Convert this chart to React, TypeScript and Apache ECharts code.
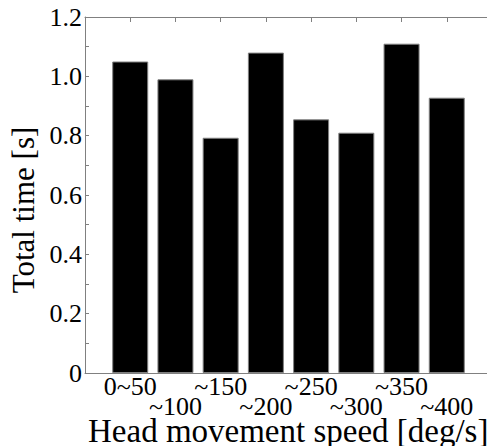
import React, { useEffect, useRef } from "react";
import * as echarts from "echarts";

const categories = ["0~50", "~100", "~150", "~200", "~250", "~300", "~350", "~400"];
const totalTime = [1.05, 0.99, 0.793, 1.08, 0.855, 0.81, 1.11, 0.928];
const yTickLabels = ["0", "0.2", "0.4", "0.6", "0.8", "1.0", "1.2"];

const FONT = "Liberation Serif";
const AXIS_COLOR = "#808080";

export default function App() {
  const ref = useRef<HTMLDivElement>(null);
  useEffect(() => {
    if (!ref.current) return;
    const chart = echarts.init(ref.current, undefined, { renderer: "svg" });
    const tickFmtY = (v: number) => {
      const k = Math.round(v * 10);
      if (k % 2 !== 0) return "";
      return yTickLabels[k / 2] ?? "";
    };
    const axisBase = {
      type: "value",
      splitLine: { show: false },
      axisLine: { show: true, onZero: false, lineStyle: { color: AXIS_COLOR, width: 1 } },
    };
    chart.setOption({
      animation: false,
      backgroundColor: "#fff",
      textStyle: { fontFamily: FONT },
      grid: { left: 85, top: 17, bottom: 73, right: 4, containLabel: false },
      xAxis: [
        {
          ...axisBase,
          position: "bottom",
          min: 0,
          max: categories.length + 1,
          interval: 1,
          axisTick: { show: true, inside: true, length: 5, lineStyle: { color: AXIS_COLOR } },
          axisLabel: {
            margin: 3,
            fontFamily: FONT,
            fontSize: 26,
            lineHeight: 20,
            color: "#000",
            verticalAlign: "top",
            formatter: (v: number) => {
              const i = Math.round(v) - 1;
              if (i < 0 || i >= categories.length) return "";
              return i % 2 === 0 ? categories[i] : "\n" + categories[i];
            },
          },
        },
        {
          ...axisBase,
          position: "top",
          min: 0,
          max: categories.length + 1,
          interval: 1,
          axisTick: { show: true, inside: true, length: 5, lineStyle: { color: AXIS_COLOR } },
          axisLabel: { show: false },
        },
      ],
      yAxis: [
        {
          ...axisBase,
          position: "left",
          min: 0,
          max: 1.2,
          interval: 0.1,
          axisTick: { show: true, inside: true, length: 4, lineStyle: { color: AXIS_COLOR } },
          axisLabel: {
            margin: 3,
            fontFamily: FONT,
            fontSize: 26,
            color: "#000",
            formatter: tickFmtY,
          },
        },
        {
          ...axisBase,
          position: "right",
          min: 0,
          max: 1.2,
          interval: 0.1,
          axisTick: { show: true, inside: true, length: 4, lineStyle: { color: AXIS_COLOR } },
          axisLabel: { show: false },
        },
      ],
      series: [
        {
          type: "bar",
          xAxisIndex: 0,
          yAxisIndex: 0,
          barWidth: 36,
          data: totalTime.map((v, i) => [i + 1, v]),
          itemStyle: { color: "#000", borderColor: AXIS_COLOR, borderWidth: 1 },
        },
      ],
      graphic: [
        {
          type: "text",
          x: 88,
          y: 431,
          style: {
            text: "Head movement speed [deg/s]",
            fontFamily: FONT,
            fontSize: 33,
            fill: "#000",
            align: "left",
            verticalAlign: "middle",
          },
        },
        {
          type: "text",
          x: 23,
          y: 210,
          rotation: Math.PI / 2,
          style: {
            text: "Total time [s]",
            fontFamily: FONT,
            fontSize: 31,
            fill: "#000",
            align: "center",
            verticalAlign: "middle",
          },
        },
      ],
    });
    return () => chart.dispose();
  }, []);
  return (
    <div style={{ position: "absolute", left: 0, top: 0, width: 487, height: 446, overflow: "hidden" }}>
      <div ref={ref} style={{ width: 496, height: 446 }} />
    </div>
  );
}
